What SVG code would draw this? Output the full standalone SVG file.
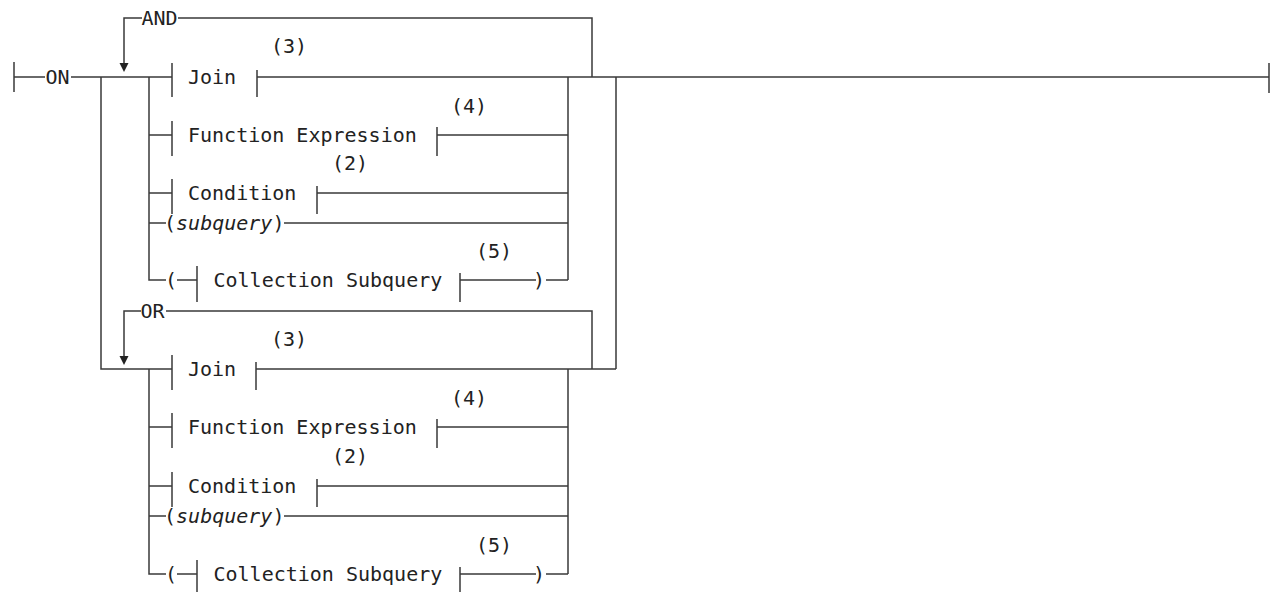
<svg xmlns="http://www.w3.org/2000/svg" width="1272" height="592" viewBox="0 0 1272 592">
<style>
.c{fill:none;stroke:#3a3a3a;stroke-width:1.5}
.t{font-family:"DejaVu Sans Mono","Liberation Mono",monospace;font-size:20px;fill:#222}
.i{font-style:italic}
.a{fill:#222}
</style>
<rect x="0" y="0" width="1272" height="592" fill="#fff"/>
<g id="connectors">
<path class="c" d="M14 62V92M14 77H45M71 77H172M101 77V369H172M1269 63V93"/>
<path class="c" d="M592 77V18H178M142 18H124V63"/>
<polygon class="a" points="119.5,63 128.5,63 124,72"/>
<path class="c" d="M149 77V280H166M149 135H172M149 193H172M149 223H166"/>
<path class="c" d="M257 77H1269M437 135H568M317 193H568M284 223H568M177 280H197M460 280H536M546 280H568M568 77V280M616 77V369"/>
<path class="c" d="M592 369V311H166M141 311H124V356"/>
<polygon class="a" points="119.5,356 128.5,356 124,365"/>
<path class="c" d="M149 369V574H166M149 427H172M149 486H172M149 516H166"/>
<path class="c" d="M256 369H616M437 427H568M317 486H568M284 516H568M177 574H197M460 574H536M546 574H568M568 369V574"/>
</g>
<g id="on"><text class="t" x="45.5" y="83.5">ON</text></g>
<g id="and"><text class="t" x="141.5" y="25">AND</text></g>
<g id="join1"><path class="c" d="M172 63V97M257 70V97"/><text class="t" x="188" y="83.5">Join</text><text class="t" x="271" y="53">(3)</text></g>
<g id="func1"><path class="c" d="M172 121V156M437 127V156"/><text class="t" x="188" y="141.5">Function Expression</text><text class="t" x="451" y="113">(4)</text></g>
<g id="cond1"><path class="c" d="M172 179V214M317 186V214"/><text class="t" x="188" y="199.5">Condition</text><text class="t" x="332" y="170">(2)</text></g>
<g id="subq1"><text class="t" x="164" y="229.5">(<tspan class="i">subquery</tspan>)</text></g>
<g id="coll1"><text class="t" x="165" y="286.5">(</text><path class="c" d="M197 266V302M460 273V302"/><text class="t" x="213.5" y="286.5">Collection Subquery</text><text class="t" x="476" y="258">(5)</text><text class="t" x="533" y="286.5">)</text></g>
<g id="or"><text class="t" x="140.5" y="317.5">OR</text></g>
<g id="join2"><path class="c" d="M172 355V390M256 362V390"/><text class="t" x="188" y="375.5">Join</text><text class="t" x="271" y="346">(3)</text></g>
<g id="func2"><path class="c" d="M172 413V448M437 419V448"/><text class="t" x="188" y="433.5">Function Expression</text><text class="t" x="451" y="405">(4)</text></g>
<g id="cond2"><path class="c" d="M172 472V507M317 479V507"/><text class="t" x="188" y="492.5">Condition</text><text class="t" x="332" y="463">(2)</text></g>
<g id="subq2"><text class="t" x="164" y="522.5">(<tspan class="i">subquery</tspan>)</text></g>
<g id="coll2"><text class="t" x="165" y="580.5">(</text><path class="c" d="M197 560V592M460 567V592"/><text class="t" x="213.5" y="580.5">Collection Subquery</text><text class="t" x="476" y="552">(5)</text><text class="t" x="533" y="580.5">)</text></g>
</svg>
